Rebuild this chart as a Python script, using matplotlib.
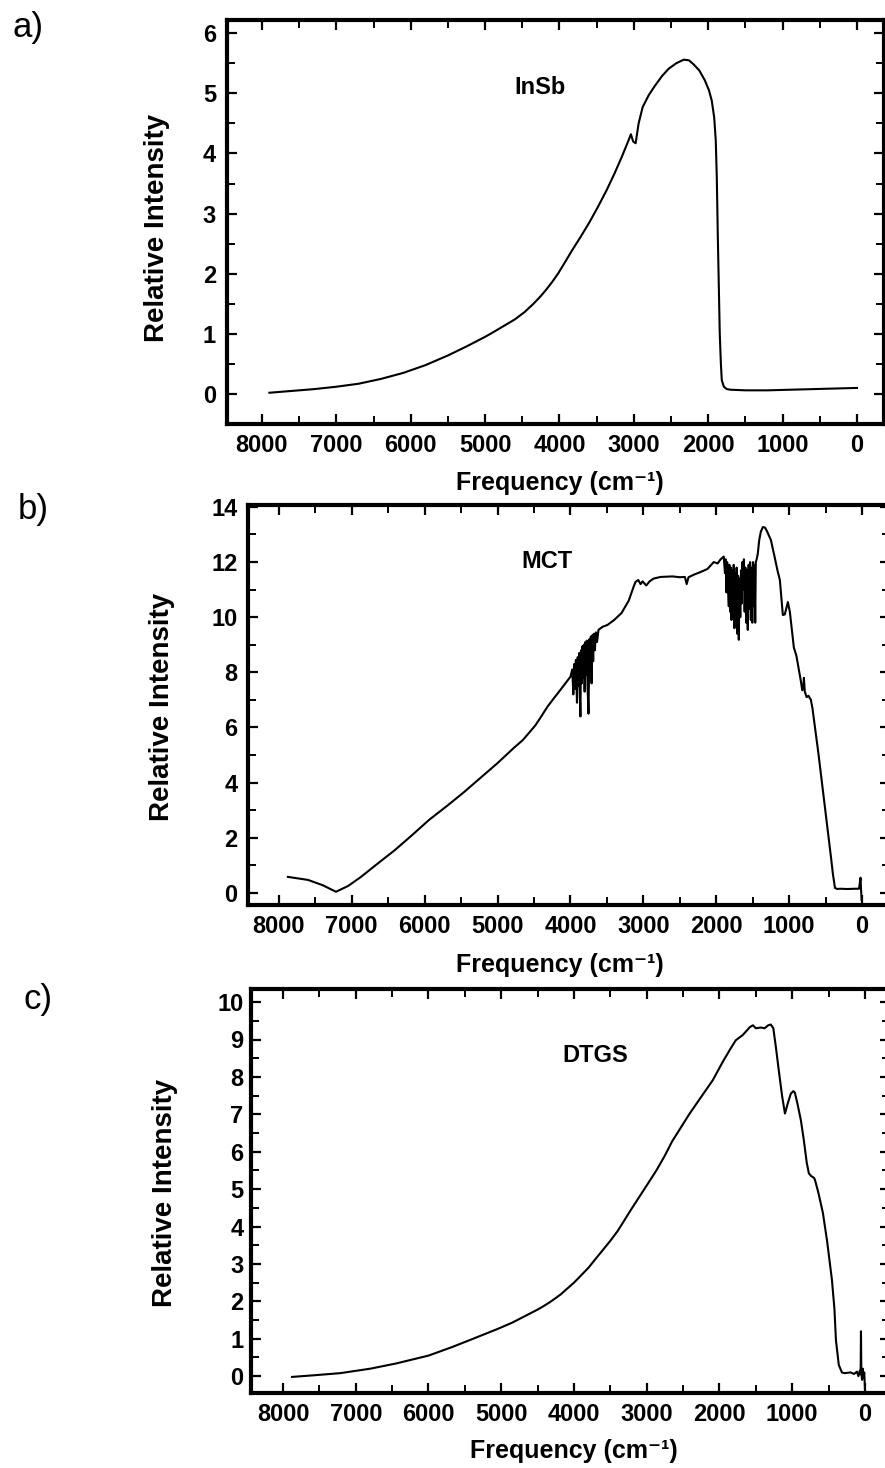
import matplotlib
matplotlib.use("Agg")
import matplotlib.pyplot as plt
from matplotlib.ticker import MultipleLocator

FONT = ['Liberation Sans', 'DejaVu Sans']

# ---------------- data ----------------
insb_freq = [7900, 7600, 7300, 7000, 6700, 6400, 6100, 5800, 5500, 5250, 5000, 4900, 4750, 4600,
             4471, 4350, 4250, 4175, 4100, 4020, 3946, 3830, 3717, 3600, 3488, 3370, 3259, 3160,
             3071, 3040, 3010, 2976, 2936, 2882, 2800, 2720, 2620, 2532, 2430, 2330, 2260, 2195,
             2120, 2047, 1990, 1953, 1920, 1899, 1885, 1872, 1858, 1845, 1830, 1818, 1790, 1750,
             1697, 1500, 1200, 902, 600, 300, 0]
insb_int = [0.02, 0.05, 0.08, 0.12, 0.17, 0.25, 0.35, 0.48, 0.64, 0.79, 0.95, 1.02, 1.13, 1.24,
            1.36, 1.50, 1.63, 1.74, 1.86, 2.00, 2.15, 2.39, 2.61, 2.85, 3.10, 3.38, 3.67, 3.95,
            4.22, 4.32, 4.20, 4.17, 4.50, 4.77, 4.97, 5.12, 5.29, 5.41, 5.50, 5.56, 5.55, 5.48,
            5.38, 5.22, 5.05, 4.88, 4.60, 4.22, 3.60, 2.67, 1.80, 1.00, 0.50, 0.23, 0.12, 0.08,
            0.07, 0.06, 0.06, 0.07, 0.08, 0.09, 0.10]

mct_freq = [7876, 7600, 7400, 7216, 7050, 6873, 6650, 6405, 6170, 5938, 5700, 5471, 5240, 5003,
            4780, 4650, 4480, 4400, 4316, 4230, 4150, 4075, 4000, 3975, 3960, 3950, 3935, 3925,
            3910, 3900, 3890, 3880, 3870, 3863, 3855, 3845, 3835, 3825, 3815, 3805, 3795, 3785,
            3775, 3765, 3752, 3740, 3730, 3720, 3710, 3698, 3688, 3678, 3665, 3650, 3635, 3615,
            3560, 3491, 3400, 3299, 3200, 3134, 3107, 3070, 3038, 3010, 2960, 2914, 2860, 2763,
            2600, 2500, 2430, 2405, 2380, 2300, 2213, 2120, 2034, 1980, 1940, 1897, 1880, 1870,
            1860, 1850, 1840, 1830, 1820, 1810, 1800, 1790, 1780, 1770, 1760, 1750, 1740, 1730,
            1720, 1710, 1700, 1690, 1680, 1670, 1660, 1650, 1640, 1630, 1620, 1610, 1600, 1590,
            1580, 1567, 1555, 1545, 1535, 1525, 1515, 1505, 1495, 1485, 1475, 1465, 1457, 1445,
            1430, 1410, 1388, 1360, 1330, 1300, 1250, 1200, 1160, 1127, 1100, 1086, 1060, 1040,
            1017, 990, 960, 935, 900, 866, 840, 820, 808, 797, 785, 760, 735, 701, 680, 660, 600,
            540, 480, 426, 400, 371, 340, 300, 200, 100, 41, 20, 15, 8, 5]
mct_int = [0.58, 0.47, 0.28, 0.04, 0.25, 0.58, 1.05, 1.56, 2.10, 2.65, 3.14, 3.63, 4.16, 4.70,
           5.25, 5.55, 6.08, 6.40, 6.75, 7.05, 7.32, 7.58, 7.84, 8.10, 7.20, 8.30, 7.40, 8.45,
           6.90, 8.55, 7.50, 8.70, 7.10, 6.40, 8.80, 7.60, 8.95, 7.80, 9.00, 7.30, 9.10, 7.90,
           9.15, 7.50, 6.50, 9.20, 8.00, 9.30, 7.60, 9.35, 8.40, 9.40, 8.80, 9.45, 9.10, 9.54,
           9.65, 9.72, 9.90, 10.15, 10.60, 11.10, 11.28, 11.35, 11.20, 11.30, 11.15, 11.30, 11.40, 11.46,
           11.48, 11.45, 11.46, 11.20, 11.45, 11.55, 11.64, 11.75, 12.00, 11.95, 12.10, 12.20, 11.60, 12.10,
           10.90, 12.00, 11.20, 10.40, 11.90, 10.20, 11.80, 9.90, 11.70, 10.60, 11.90, 9.60, 11.60, 10.10,
           11.80, 9.40, 11.50, 9.18, 11.40, 10.00, 11.70, 10.50, 12.00, 11.00, 12.10, 10.20, 11.80, 9.80,
           11.70, 9.54, 11.90, 10.30, 12.00, 9.90, 11.80, 9.80, 12.00, 10.40, 11.90, 9.80, 12.00, 12.10,
           12.30, 12.80, 13.10, 13.27, 13.25, 13.10, 12.80, 12.20, 11.70, 11.35, 10.50, 10.08, 10.10, 10.30,
           10.55, 10.20, 9.50, 8.90, 8.60, 8.10, 7.70, 7.35, 7.40, 7.80, 7.30, 7.10, 7.15, 7.00, 6.70, 6.30,
           5.10, 3.80, 2.50, 1.30, 0.70, 0.18, 0.14, 0.15, 0.14, 0.15, 0.15, 0.55, 0.20, -0.10, -0.25]

dtgs_freq = [7876, 7600, 7215, 6800, 6444, 6000, 5673, 5400, 5040, 4850, 4700, 4600, 4500, 4420,
             4330, 4250, 4180, 4117, 4000, 3900, 3800, 3718, 3600, 3500, 3400, 3332, 3220, 3100,
             2980, 2864, 2750, 2650, 2530, 2410, 2250, 2093, 1950, 1850, 1776, 1680, 1583, 1540,
             1500, 1432, 1380, 1330, 1294, 1260, 1225, 1180, 1140, 1100, 1060, 1020, 985, 964, 930,
             881, 840, 800, 771, 740, 700, 688, 640, 578, 520, 454, 420, 399, 360, 317, 280, 200,
             150, 110, 90, 70, 60, 55, 50, 40, 30, 20, 10, 0]
dtgs_int = [-0.02, 0.02, 0.08, 0.20, 0.34, 0.55, 0.78, 0.99, 1.27, 1.43, 1.58, 1.68, 1.78, 1.87,
            1.98, 2.09, 2.19, 2.30, 2.50, 2.70, 2.90, 3.10, 3.38, 3.62, 3.88, 4.09, 4.44, 4.80,
            5.16, 5.51, 5.90, 6.28, 6.65, 7.02, 7.47, 7.91, 8.42, 8.75, 8.98, 9.12, 9.33, 9.38,
            9.30, 9.32, 9.30, 9.38, 9.40, 9.30, 8.80, 8.10, 7.50, 7.02, 7.30, 7.55, 7.62, 7.58,
            7.30, 6.84, 6.30, 5.70, 5.42, 5.35, 5.30, 5.25, 4.90, 4.36, 3.60, 2.57, 1.80, 0.96,
            0.30, 0.10, 0.08, 0.10, 0.06, 0.12, 0.00, 0.15, 0.05, 1.20, 0.10, -0.10, 0.20, -0.05,
            0.10, -0.35]

panels = [
    dict(freq=insb_freq, vals=insb_int, name='InSb', letter='a)',
         pos=[227, 20, 884, 424], xlim=(8470, -363), ylim=(-0.5, 6.22),
         yminor=0.5, yticks=[0, 1, 2, 3, 4, 5, 6], ypad=8,
         name_xy=(540, 88), letter_xy=(28, 27),
         ylab_xy=(157, 228), xlab_xy=(560, 471)),
    dict(freq=mct_freq, vals=mct_int, name='MCT', letter='b)',
         pos=[248, 505, 890, 905], xlim=(8423, -384), ylim=(-0.44, 14.07),
         yminor=1, yticks=[0, 2, 4, 6, 8, 10, 12, 14], ypad=7.5,
         name_xy=(547, 561), letter_xy=(33, 509),
         ylab_xy=(162, 707), xlab_xy=(560, 953)),
    dict(freq=dtgs_freq, vals=dtgs_int, name='DTGS', letter='c)',
         pos=[251, 989, 890, 1393], xlim=(8440, -344), ylim=(-0.45, 10.35),
         yminor=0.5, yticks=list(range(0, 11)), ypad=5.5,
         name_xy=(595, 1055), letter_xy=(38, 1000),
         ylab_xy=(165, 1193), xlab_xy=(574, 1439)),
]

W, H = 885, 1468
fig = plt.figure(figsize=(W / 100, H / 100), dpi=100)

for p in panels:
    l, t, r, b = p['pos']
    ax = fig.add_axes([l / W, 1 - b / H, (r - l) / W, (b - t) / H])
    ax.plot(p['freq'], p['vals'], color='black', lw=1.5)
    ax.set_xlim(*p['xlim'])
    ax.set_ylim(*p['ylim'])
    ax.xaxis.set_major_locator(MultipleLocator(1000))
    ax.xaxis.set_minor_locator(MultipleLocator(500))
    ax.set_yticks(p['yticks'])
    ax.yaxis.set_minor_locator(MultipleLocator(p['yminor']))
    ax.tick_params(which='major', direction='in', top=True, right=True,
                   length=7, width=1.6)
    ax.tick_params(which='minor', direction='in', top=True, right=True,
                   length=6, width=1.4)
    ax.tick_params(axis='x', which='major', pad=7.5)
    ax.tick_params(axis='y', which='major', pad=p['ypad'])
    for lab in ax.get_xticklabels() + ax.get_yticklabels():
        lab.set_fontfamily(FONT)
        lab.set_fontweight('bold')
        lab.set_fontsize(17)
    for side in ['top', 'bottom', 'left', 'right']:
        ax.spines[side].set_linewidth(3.0)
    yx, yy = p['ylab_xy']
    fig.text(yx / W, 1 - yy / H, 'Relative Intensity', family=FONT,
             fontweight='bold', fontsize=20, rotation=90, ha='center', va='center')
    xx, xy = p['xlab_xy']
    fig.text(xx / W, 1 - xy / H, 'Frequency (cm\u207b\u00b9)', family=FONT,
             fontweight='bold', fontsize=18, ha='center', va='top')
    nx, ny = p['name_xy']
    fig.text(nx / W, 1 - ny / H, p['name'], family=FONT,
             fontweight='bold', fontsize=17, ha='center', va='center')
    lx, ly = p['letter_xy']
    fig.text(lx / W, 1 - ly / H, p['letter'], family=FONT,
             fontsize=25, ha='center', va='center')

fig.savefig('out.png', dpi=100)
